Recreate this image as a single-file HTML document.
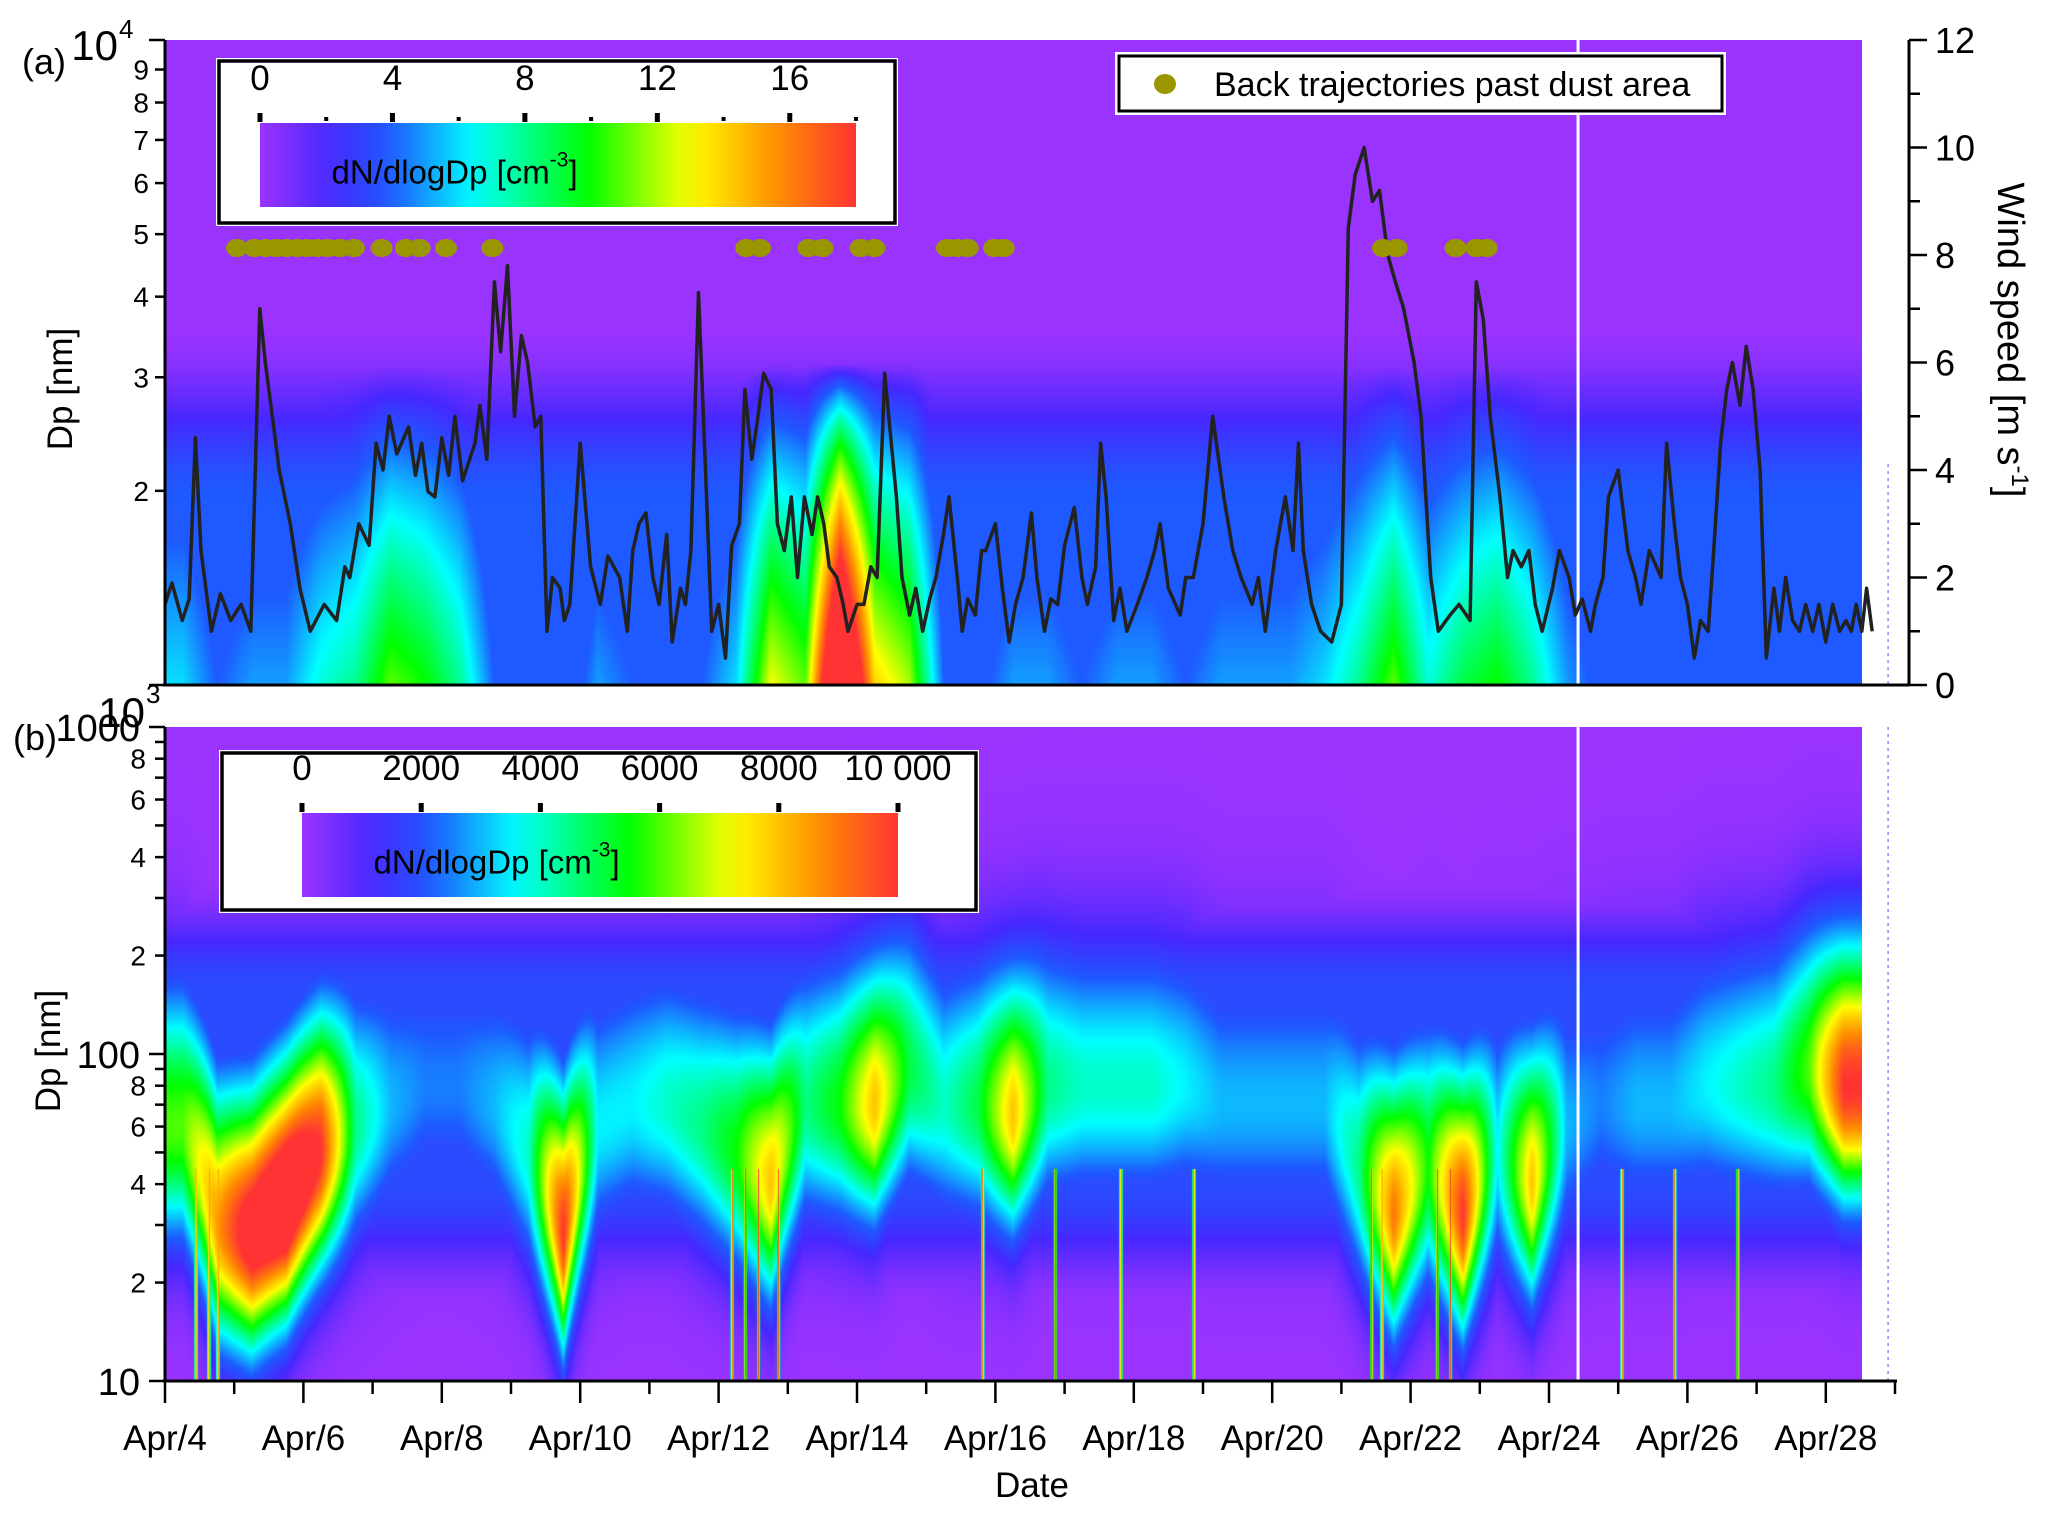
<!DOCTYPE html>
<html><head><meta charset="utf-8">
<style>
html,body{margin:0;padding:0;background:#fff;}
#wrap{position:relative;width:2067px;height:1514px;overflow:hidden;font-family:"Liberation Sans",Arial,sans-serif;}
canvas{position:absolute;}
svg{position:absolute;left:0;top:0;}
</style></head>
<body>
<div id="wrap">
<canvas id="ca"></canvas>
<canvas id="cb"></canvas>
<svg id="s" width="2067" height="1514"></svg>
</div>
<script>
// ---- data ----
// Panel (a) coarse-mode intensity (x1000 cm-3 at 1000 nm) per half-day from Apr 4.0
const coarseIntensity = [6,4,5,5,7,8,11,10,8,4,2.5,2.5,5,4,4,4,6,13,11,26,14,12,4,3.5,5,5,4,5,5,4,5,5,5,6,8,11,7,9,10,8,5,3.5,3.5,3.5,3.5,3.5,3.5,3.5,2.5];
// Panel (b) mode diameter (nm) and peak concentration per half-day
const modeDiameter = [60,30,28,35,50,60,70,80,80,70,50,28,60,70,70,60,50,40,70,70,70,90,70,70,65,80,80,80,80,80,70,70,70,70,45,32,45,32,50,40,60,70,70,70,80,80,80,90,80];
const modePeak = [6000,8500,11000,12000,10000,4500,3000,2500,2500,3000,4000,10000,3500,3500,4000,4500,5500,8000,4500,5500,8000,5000,4000,5000,8000,4500,4000,4000,4000,3500,3000,3000,3000,3000,4500,9000,5500,10000,3500,8000,3000,2500,3000,3000,3500,4000,4500,6000,10000];
// thin nucleation streaks (days since Apr 4)
const streakDay = [0.44,0.63,0.76,8.19,8.38,8.57,8.86,11.81,12.86,13.81,14.86,17.43,17.58,18.38,18.57,21.05,21.81,22.72];
// Wind speed (days since Apr 4, m/s)
const windDay = [0,0.1,0.25,0.35,0.44,0.52,0.67,0.8,0.95,1.1,1.24,1.37,1.45,1.52,1.65,1.81,1.95,2.1,2.3,2.48,2.6,2.67,2.8,2.95,3.05,3.15,3.24,3.35,3.52,3.62,3.71,3.8,3.9,4.0,4.1,4.19,4.3,4.48,4.55,4.65,4.76,4.85,4.95,5.05,5.15,5.24,5.35,5.43,5.52,5.6,5.71,5.77,5.85,6.0,6.15,6.29,6.4,6.57,6.68,6.76,6.85,6.95,7.05,7.14,7.25,7.33,7.45,7.52,7.6,7.71,7.81,7.9,8.0,8.1,8.19,8.3,8.38,8.48,8.57,8.65,8.76,8.85,8.95,9.05,9.14,9.24,9.35,9.43,9.52,9.6,9.71,9.8,9.87,10.0,10.1,10.2,10.29,10.4,10.57,10.65,10.76,10.85,10.95,11.05,11.14,11.25,11.33,11.45,11.52,11.6,11.71,11.8,11.86,12.0,12.1,12.2,12.29,12.4,12.52,12.6,12.71,12.8,12.9,13.0,13.14,13.25,13.33,13.45,13.52,13.6,13.71,13.8,13.9,14.05,14.19,14.3,14.38,14.5,14.67,14.75,14.86,15.0,15.14,15.3,15.43,15.55,15.71,15.8,15.9,16.05,16.19,16.3,16.38,16.45,16.57,16.7,16.86,17.0,17.1,17.2,17.33,17.45,17.55,17.67,17.78,17.9,18.05,18.15,18.29,18.4,18.57,18.7,18.86,18.95,19.05,19.15,19.29,19.4,19.48,19.6,19.71,19.8,19.9,20.05,20.15,20.29,20.38,20.48,20.6,20.67,20.78,20.86,21.0,21.14,21.25,21.33,21.45,21.62,21.7,21.81,21.9,22.0,22.1,22.19,22.3,22.38,22.48,22.57,22.65,22.76,22.85,22.95,23.05,23.14,23.25,23.33,23.42,23.52,23.62,23.71,23.81,23.9,24.0,24.1,24.2,24.29,24.37,24.44,24.52,24.59,24.67,24.72,24.76,24.81,24.86,24.92,24.97];
const windSpeed = [1.5,1.9,1.2,1.6,4.6,2.5,1.0,1.7,1.2,1.5,1.0,7.0,6.0,5.3,4.0,3.0,1.8,1.0,1.5,1.2,2.2,2.0,3.0,2.6,4.5,4.0,5.0,4.3,4.8,3.9,4.5,3.6,3.5,4.6,3.9,5.0,3.8,4.5,5.2,4.2,7.5,6.2,7.8,5.0,6.5,6.0,4.8,5.0,1.0,2.0,1.8,1.2,1.5,4.5,2.2,1.5,2.4,2.0,1.0,2.5,3.0,3.2,2.0,1.5,2.8,0.8,1.8,1.5,2.5,7.3,4.0,1.0,1.5,0.5,2.6,3.0,5.5,4.2,5.0,5.8,5.5,3.0,2.5,3.5,2.0,3.5,2.8,3.5,3.0,2.2,2.0,1.5,1.0,1.5,1.5,2.2,2.0,5.8,3.5,2.0,1.3,1.8,1.0,1.6,2.0,2.8,3.5,2.0,1.0,1.6,1.3,2.5,2.5,3.0,1.8,0.8,1.5,2.0,3.2,2.0,1.0,1.6,1.5,2.6,3.3,2.0,1.5,2.2,4.5,3.5,1.2,1.8,1.0,1.5,2.0,2.5,3.0,1.8,1.3,2.0,2.0,3.0,5.0,3.5,2.5,2.0,1.5,2.0,1.0,2.5,3.5,2.5,4.5,2.5,1.5,1.0,0.8,1.5,8.5,9.5,10.0,9.0,9.2,8.0,7.5,7.0,6.0,5.0,2.0,1.0,1.3,1.5,1.2,7.5,6.8,5.0,3.5,2.0,2.5,2.2,2.5,1.5,1.0,1.8,2.5,2.0,1.3,1.6,1.0,1.5,2.0,3.5,4.0,2.5,2.0,1.5,2.5,2.0,4.5,3.0,2.0,1.5,0.5,1.2,1.0,2.5,4.5,5.5,6.0,5.2,6.3,5.5,4.0,0.5,1.8,1.0,2.0,1.2,1.0,1.5,1.0,1.5,0.8,1.5,1.0,1.2,1.0,1.5,1.0,1.8,1.0];
// Back trajectory dots (days since Apr 4)
const trajDay = [1.04,1.29,1.45,1.6,1.75,1.9,2.05,2.2,2.35,2.53,2.73,3.13,3.48,3.68,4.06,4.73,8.4,8.6,9.3,9.5,10.05,10.25,11.3,11.45,11.6,11.98,12.12,17.6,17.8,18.65,18.95,19.1];
const xTickLabels = ["Apr/4","Apr/6","Apr/8","Apr/10","Apr/12","Apr/14","Apr/16","Apr/18","Apr/20","Apr/22","Apr/24","Apr/26","Apr/28"];
const windTicks = [0,2,4,6,8,10,12];
const cbTicksA = [0,4,8,12,16];
const cbTicksB = [0,2000,4000,6000,8000,10000];

// ---- geometry ----
const X0=165, DAYPX=69.2;
const xs = d => X0 + d*DAYPX;
const A={top:40,bot:685}, B={top:727,bot:1381};
const HEND = xs(24.53);
const yA = lg => A.bot - (lg-3)*(A.bot-A.top);
const yB = lg => B.bot - (lg-1)/2*(B.bot-B.top);
const yW = v => A.bot - v/12*(A.bot-A.top);

const stops=[[0,[155,51,255]],[0.12,[70,40,255]],[0.22,[30,90,255]],[0.36,[0,255,255]],[0.55,[0,255,0]],[0.72,[255,255,0]],[0.87,[255,140,0]],[1,[255,51,51]]];
function cmap(t){t=Math.max(0,Math.min(1,t));for(let i=1;i<stops.length;i++){if(t<=stops[i][0]){const a=stops[i-1],b=stops[i];const f=(t-a[0])/(b[0]-a[0]);return a[1].map((c,k)=>Math.round(c+(b[1][k]-c)*f));}}return stops[stops.length-1][1];}
function interp(arr,x){let u=x-0.5; if(u<0)u=0; if(u>arr.length-1)u=arr.length-1; const i=Math.floor(u),f=u-i; const j=Math.min(i+1,arr.length-1); return arr[i]+(arr[j]-arr[i])*f;}
function smooth(x,a,b){if(x<=a)return 0;if(x>=b)return 1;const t=(x-a)/(b-a);return t*t*(3-2*t);}

function drawHeat(id,top,bot,fn){
  const c=document.getElementById(id); const w=Math.round(HEND-X0), h=bot-top;
  c.width=w;c.height=h;c.style.left=X0+'px';c.style.top=top+'px';
  const ctx=c.getContext('2d'); const img=ctx.createImageData(w,h);
  for(let x=0;x<w;x++){const col=(x/DAYPX)*2;
    for(let y=0;y<h;y++){const rgb=cmap(fn(col,y,h,x));const k=(y*w+x)*4;img.data[k]=rgb[0];img.data[k+1]=rgb[1];img.data[k+2]=rgb[2];img.data[k+3]=255;}}
  ctx.putImageData(img,0,0);
}
drawHeat('ca',A.top,A.bot,(col,y,h)=>{const lg=3+(h-y)/h; const a=interp(coarseIntensity,col); const r=(lg-3)/0.5; const f=Math.pow(Math.max(0,1-r),0.7); const base=0.22*(1-smooth(lg,3.28,3.56)); return Math.max(a/18*f, base);});
const streakPx = streakDay.map(d=>d*DAYPX);
drawHeat('cb',B.top,B.bot,(col,y,h,x)=>{const lg=1+2*(h-y)/h; const m=Math.log10(interp(modeDiameter,col)); const p=interp(modePeak,col); const d=lg-m; const s=d>0?0.3:0.24; const g=p*Math.exp(-0.5*(d/s)*(d/s)); const band=1900*smooth(lg,1.2,1.6)*(1-smooth(lg,2.2,2.55)); let v=Math.max(g,band);
  for(const sp of streakPx){const dx=Math.abs(x-sp); if(dx<2 && lg<1.65){v=Math.max(v,10000*(1-dx/2.5));}}
  return v/10000;});

// ---- SVG ----
const S=document.getElementById('s'); const NS='http://www.w3.org/2000/svg';
function el(tag,attrs,parent){const e=document.createElementNS(NS,tag);for(const k in attrs)e.setAttribute(k,attrs[k]);(parent||S).appendChild(e);return e;}
function txt(x,y,s,size,anchor,parent){const t=el('text',{x:x,y:y,'font-size':size,'text-anchor':anchor||'middle','font-family':'Liberation Sans, Arial, sans-serif',fill:'#000'},parent);t.textContent=s;return t;}

const wl=el('line',{x1:xs(20.42),x2:xs(20.42),y1:A.top,y2:B.bot,stroke:'#fff','stroke-width':3});

const dl=el('line',{x1:xs(24.9),x2:xs(24.9),y1:B.top,y2:B.bot,stroke:'#88f','stroke-width':1.5,'stroke-dasharray':'3,4'});

const dl2=el('line',{x1:xs(24.9),x2:xs(24.9),y1:yA(Math.log10(2200)),y2:A.bot,stroke:'#88f','stroke-width':1.5,'stroke-dasharray':'3,4'});


let pts=windDay.map((d,i)=>xs(d).toFixed(1)+','+yW(windSpeed[i]).toFixed(1)).join(' ');
const wline=el('polyline',{points:pts,fill:'none',stroke:'#222','stroke-width':3.5,'stroke-linejoin':'round'});


const gd=el('g',{});

trajDay.forEach(d=>{const c=el('ellipse',{cx:xs(d),cy:248,rx:11,ry:9,fill:'#9a9600'},gd);
});

const ax=el('g',{stroke:'#000','stroke-width':3,fill:'none'});

el('line',{x1:X0,x2:X0,y1:A.top,y2:A.bot},ax);
el('line',{x1:X0-2,x2:1909,y1:A.bot,y2:A.bot},ax);
el('line',{x1:1909,x2:1909,y1:A.top,y2:A.bot},ax);
el('line',{x1:X0,x2:X0,y1:B.top,y2:B.bot},ax);
el('line',{x1:X0-2,x2:1897,y1:B.bot,y2:B.bot},ax);
for(let k=1;k<=10;k++){const y=yA(3+Math.log10(k));const major=(k==1||k==10);el('line',{x1:X0-(major?16:10),x2:X0,y1:y,y2:y,'stroke-width':2.5},ax);}
txt(145,A.bot+42,'10','42px','end');
txt(146,A.bot+18,'3','26px','start');
txt(118,A.top+20,'10','42px','end');
txt(119,A.top-2,'4','26px','start');
for(let k=2;k<=9;k++){const t=txt(149,yA(3+Math.log10(k))+10,String(k),'28px','end');}
for(let v=0;v<=12;v++){const y=yW(v);el('line',{x1:1909,x2:1909+(v%2==0?18:11),y1:y,y2:y,'stroke-width':2.5},ax);}
windTicks.forEach(v=>{const t=txt(1935,yW(v)+13,String(v),'36px','start');});
for(let dec=1;dec<=2;dec++)for(let k=1;k<=10;k++){if(dec==2&&k==1)continue;const y=yB(dec+Math.log10(k));const major=(k==1||k==10);el('line',{x1:X0-(major?16:10),x2:X0,y1:y,y2:y,'stroke-width':2.5},ax);}
[[1,'10'],[3,'1000'],[2,'100']].forEach(([lg,s])=>{const t=txt(140,yB(lg)+14,s,'38px','end');});
[2,4,6,8].forEach(k=>{[1,2].forEach(dec=>{const t=txt(146,yB(dec+Math.log10(k))+10,String(k),'28px','end');});});
for(let d=0;d<=25;d++){const x=xs(d);el('line',{x1:x,x2:x,y1:B.bot,y2:B.bot+(d%2==0?22:13),'stroke-width':2.5},ax);}
xTickLabels.forEach((s,i)=>{const t=txt(xs(i*2),1450,s,'35px','middle');});

let t;
t=txt(1032,1497,'Date','35px');
t=txt(0,0,'Dp [nm]','35px');t.setAttribute('transform','translate(72,389) rotate(-90)');
t=txt(0,0,'Dp [nm]','35px');t.setAttribute('transform','translate(60,1051) rotate(-90)');
t=el('text',{transform:'translate(1998,340) rotate(90)','font-size':'38px','text-anchor':'middle','font-family':'Liberation Sans, Arial, sans-serif'});
t.innerHTML='Wind speed [m s<tspan dy="-14" font-size="24">-1</tspan><tspan dy="14">]</tspan>';

t=txt(22,74,'(a)','36px','start');
t=txt(13,750,'(b)','36px','start');

const defs=el('defs',{});
const lgr=el('linearGradient',{id:'cg',x1:0,x2:1,y1:0,y2:0},defs);
for(let i=0;i<=20;i++){const c=cmap(i/20);el('stop',{offset:(i/20),'stop-color':'rgb('+c.join(',')+')'},lgr);}
function cbLegend(name,bx,by,bw,bh,cx,cy,cw,ch,ticks,labels,minor){
  const g=el('g',{});
  el('rect',{x:bx-3,y:by-3,width:bw+6,height:bh+6,fill:'#fff'},g);
  el('rect',{x:bx,y:by,width:bw,height:bh,fill:'#fff',stroke:'#000','stroke-width':3.5},g);
  el('rect',{x:cx,y:cy,width:cw,height:ch,fill:'url(#cg)'},g);
  ticks.forEach((v,i)=>{const x=cx+cw*v/ticks[ticks.length-1]*(minor?16/18:1);el('rect',{x:x-2.5,y:cy-10,width:5,height:9,fill:'#000'},g);
    txt(x,cy-33,labels[i],'35px','middle',g);});
  if(minor){for(let k=2;k<=18;k+=4){const x=cx+cw*k/18;el('rect',{x:x-2,y:cy-6,width:4,height:4,fill:'#000'},g);}}
  const u=el('text',{x:cx+cw*0.12,y:cy+ch*0.72,'font-size':'33px','font-family':'Liberation Sans, Arial, sans-serif'},g);
  u.innerHTML='dN/dlogDp [cm<tspan dy="-17" font-size="21">-3</tspan><tspan dy="17">]</tspan>';
  
}
cbLegend('colorbar-legend-a',219,61,676,162,260,123,596,84,cbTicksA,cbTicksA.map(String),true);
cbLegend('colorbar-legend-b',222,753,754,157,302,813,596,84,cbTicksB,cbTicksB.map(v=>v==10000?'10 000':String(v)),false);
const lg2=el('g',{});
el('rect',{x:1115,y:52,width:611,height:63,fill:'#fff'},lg2);
el('rect',{x:1119,y:56,width:603,height:55,fill:'#fff',stroke:'#000','stroke-width':3},lg2);
el('ellipse',{cx:1165,cy:84,rx:11,ry:10,fill:'#9a9600'},lg2);
txt(1214,96,'Back trajectories past dust area','34px','start',lg2);
</script>
</body></html>
